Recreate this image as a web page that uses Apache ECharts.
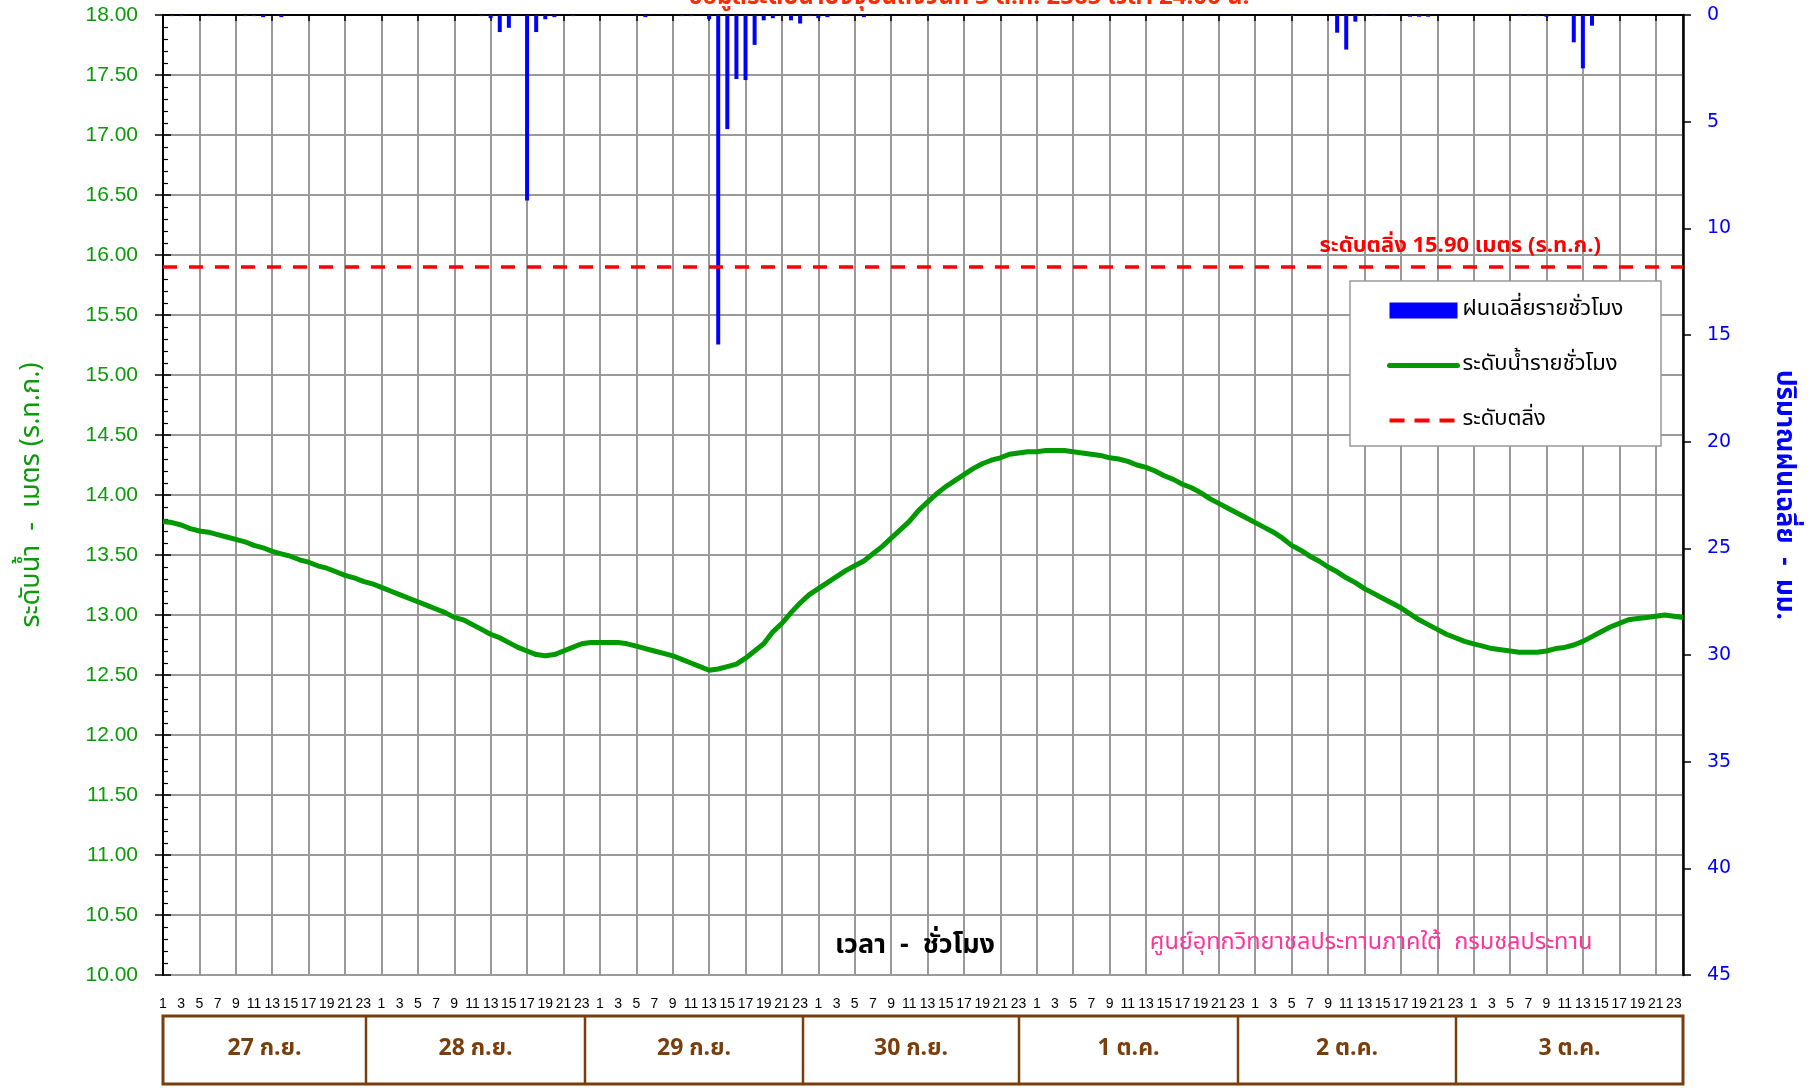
<!DOCTYPE html>
<html><head><meta charset="utf-8">
<script src="https://cdn.jsdelivr.net/npm/echarts@6/dist/echarts.min.js"></script>
<style>html,body{margin:0;padding:0;background:#fff}#c{width:1809px;height:1088px}</style>
</head><body><div id="c"></div>
<script>
// ---------- DATA ----------
const DAYS = ['27 ก.ย.','28 ก.ย.','29 ก.ย.','30 ก.ย.','1 ต.ค.','2 ต.ค.','3 ต.ค.'];
const HOURS = ['1','2','3','4','5','6','7','8','9','10','11','12','13','14','15','16','17','18','19','20','21','22','23','24'];
const WATER_LEVEL = [
  13.78,13.77,13.75,13.72,13.70,13.69,13.67,13.65,13.63,13.61,13.58,13.56,13.53,13.51,13.49,13.46,13.44,13.41,13.39,13.36,13.33,13.31,13.28,13.26,
  13.23,13.20,13.17,13.14,13.11,13.08,13.05,13.02,12.98,12.96,12.92,12.88,12.84,12.81,12.77,12.73,12.70,12.67,12.66,12.67,12.70,12.73,12.76,12.77,
  12.77,12.77,12.77,12.76,12.74,12.72,12.70,12.68,12.66,12.63,12.60,12.57,12.54,12.55,12.57,12.59,12.64,12.70,12.76,12.86,12.93,13.02,13.10,13.17,
  13.22,13.27,13.32,13.37,13.41,13.45,13.51,13.57,13.64,13.71,13.78,13.87,13.94,14.01,14.07,14.12,14.17,14.22,14.26,14.29,14.31,14.34,14.35,14.36,
  14.36,14.37,14.37,14.37,14.36,14.35,14.34,14.33,14.31,14.30,14.28,14.25,14.23,14.20,14.16,14.13,14.09,14.06,14.02,13.97,13.93,13.89,13.85,13.81,
  13.77,13.73,13.69,13.64,13.58,13.54,13.49,13.45,13.40,13.36,13.31,13.27,13.22,13.18,13.14,13.10,13.06,13.01,12.96,12.92,12.88,12.84,12.81,12.78,
  12.76,12.74,12.72,12.71,12.70,12.69,12.69,12.69,12.70,12.72,12.73,12.75,12.78,12.82,12.86,12.90,12.93,12.96,12.97,12.98,12.99,13.00,12.99,12.98
];
const RAIN = [
  0,0.05,0.05,0,0,0.05,0,0,0,0.05,0.05,0.1,0,0.1,0,0,0,0,0,0,0,0,0,0,
  0,0,0,0,0,0,0,0,0,0,0,0.05,0.15,0.8,0.6,0,8.7,0.8,0.2,0.1,0,0.05,0,0,
  0,0,0,0,0.05,0.1,0,0,0,0.05,0.05,0,0.2,15.45,5.35,3.0,3.05,1.4,0.25,0.15,0.05,0.25,0.4,0.05,
  0.15,0.1,0,0.05,0,0.1,0,0.05,0,0,0,0.05,0.05,0,0,0,0,0,0,0,0,0,0,0,
  0,0,0,0,0,0,0,0,0,0,0,0,0,0,0,0,0,0,0,0,0,0,0,0,
  0,0,0,0,0.05,0,0,0,0,0.83,1.62,0.31,0.03,0.05,0.03,0,0,0.08,0.08,0.08,0,0,0,0,
  0,0,0,0,0,0.05,0.05,0.05,0.08,0,0,1.28,2.5,0.5,0,0,0,0,0,0,0,0,0,0
];
const BANK_LEVEL = 15.90;
const LEVEL_MIN = 10, LEVEL_MAX = 18, LEVEL_STEP = 0.5;
const RAIN_MIN = 0, RAIN_MAX = 45, RAIN_STEP = 5;
const SERIES_NAMES = ['ฝนเฉลี่ยรายชั่วโมง','ระดับน้ำรายชั่วโมง','ระดับตลิ่ง'];
const TITLE = 'ข้อมูลระดับน้ำปัจจุบันถึงวันที่ 3 ต.ค. 2565 เวลา 24.00 น.';
const X_NAME = 'เวลา  -  ชั่วโมง';
const CREDIT = 'ศูนย์อุทกวิทยาชลประทานภาคใต้  กรมชลประทาน';
const LEFT_NAME = 'ระดับน้ำ  -  เมตร (ร.ท.ก.)';
const RIGHT_NAME = 'ปริมาณฝนเฉลี่ย  -  มม.';

// ---------- LAYOUT ----------
const THAI = 'Tahoma, "Noto Sans Thai", "Noto Sans Thai UI", Loma, "Noto Sans", sans-serif';
const CATEGORIES = [];
DAYS.forEach((d, di) => HOURS.forEach(h => CATEGORIES.push(di + '|' + h)));
const BOX_EDGES = [163, 366, 585, 803, 1019, 1238, 1456, 1683];
const BROWN = '#7a3d0c';
const NO_SYMBOL = {color:'rgba(0,0,0,0)', borderColor:'rgba(0,0,0,0)', borderWidth:0};

const graphics = [];
graphics.push({type:'rect', z:50, shape:{x:1350,y:281,width:311,height:165}, style:{fill:'#fff', stroke:'#9a9a9a', lineWidth:1.5}});
graphics.push({type:'text', z:50, x:969, y:-13, style:{text:TITLE, fill:'#ff2a00', font:'bold 24px ' + THAI, textAlign:'center', textVerticalAlign:'top'}});
graphics.push({type:'text', z:50, x:915, y:948, style:{text:X_NAME, fill:'#000', font:'bold 27px ' + THAI, textAlign:'center', textVerticalAlign:'middle'}});
graphics.push({type:'text', z:50, x:1371, y:944, style:{text:CREDIT, fill:'#ff3399', font:'23.5px ' + THAI, textAlign:'center', textVerticalAlign:'middle'}});
graphics.push({type:'rect', z:50, shape:{x:BOX_EDGES[0], y:1016, width:BOX_EDGES[7]-BOX_EDGES[0], height:68}, style:{fill:'#fff', stroke:BROWN, lineWidth:3}});
for (let i = 1; i < BOX_EDGES.length - 1; i++) {
  graphics.push({type:'line', z:51, shape:{x1:BOX_EDGES[i], y1:1016, x2:BOX_EDGES[i], y2:1084}, style:{stroke:BROWN, lineWidth:2.5}});
}
DAYS.forEach((d, i) => {
  graphics.push({type:'text', z:52, x:(BOX_EDGES[i]+BOX_EDGES[i+1])/2, y:1050,
    style:{text:d, fill:BROWN, font:'bold 23px "Liberation Sans Narrow", ' + THAI, textAlign:'center', textVerticalAlign:'middle'}});
});

const chart = echarts.init(document.getElementById('c'), null, {renderer:'canvas'});
chart.setOption({
  animation:false,
  backgroundColor:'#fff',
  grid:{left:163, right:126, top:15, bottom:113, containLabel:false, outerBoundsMode:'none',
        show:true, borderColor:'#444', borderWidth:1.5, backgroundColor:'transparent'},
  legend:{
    orient:'vertical', left:1387, top:298, z:60, selectedMode:false, padding:0,
    itemWidth:68, itemHeight:16, itemGap:30,
    textStyle:{fontSize:22, color:'#000', lineHeight:25, fontFamily:THAI},
    data:[
      {name:SERIES_NAMES[0], icon:'rect'},
      {name:SERIES_NAMES[1], itemStyle:NO_SYMBOL, lineStyle:{width:5, cap:'round', color:'#009900'}},
      {name:SERIES_NAMES[2], itemStyle:NO_SYMBOL, lineStyle:{width:4, color:'#ff0000', type:[15,10]}}
    ]
  },
  xAxis:{
    type:'category', data:CATEGORIES, boundaryGap:false,
    axisLine:{show:true, lineStyle:{color:'#000', width:2}},
    axisTick:{show:true, interval:3, length:6, lineStyle:{color:'#000', width:1.5}},
    axisLabel:{interval:1, formatter:v => v.split('|')[1], color:'#000', fontSize:14,
               fontFamily:'"Liberation Sans Narrow", "Liberation Sans", sans-serif', margin:22},
    splitLine:{show:true, interval:3, lineStyle:{color:'#9a9a9a', width:2}}
  },
  yAxis:[
    {type:'value', min:LEVEL_MIN, max:LEVEL_MAX, interval:LEVEL_STEP, position:'left',
     axisLine:{show:true, lineStyle:{color:'#000', width:2}},
     axisTick:{show:true, length:8, lineStyle:{color:'#000', width:1.5}},
     axisLabel:{color:'#0a9a0a', fontSize:21, fontFamily:'"Liberation Sans", sans-serif', formatter:v => v.toFixed(2), margin:25},
     splitLine:{show:true, lineStyle:{color:'#9a9a9a', width:2}},
     name:LEFT_NAME, nameLocation:'middle', nameRotate:90, nameGap:116,
     nameTextStyle:{color:'#0a9a0a', fontSize:27, fontFamily:THAI}},
    {type:'value', min:RAIN_MIN, max:RAIN_MAX, interval:RAIN_STEP, inverse:true, position:'right',
     axisLine:{show:true, lineStyle:{color:'#000', width:2.5}},
     axisTick:{show:true, length:8, lineStyle:{color:'#000', width:1.5}},
     axisLabel:{color:'#0000ff', fontSize:19, fontFamily:'"DejaVu Sans", sans-serif', margin:24},
     splitLine:{show:false},
     name:RIGHT_NAME, nameLocation:'middle', nameRotate:-90, nameGap:86,
     nameTextStyle:{color:'#0000ff', fontSize:26, fontWeight:'bold', fontFamily:THAI}},
    {type:'value', min:LEVEL_MIN, max:LEVEL_MAX, interval:LEVEL_STEP, position:'left',
     axisLine:{show:false}, axisLabel:{show:false}, splitLine:{show:false},
     axisTick:{show:true, inside:true, length:8, lineStyle:{color:'#000', width:1.5}},
     minorTick:{show:true, splitNumber:5, length:5, lineStyle:{color:'#000', width:1.2}}}
  ],
  series:[
    {name:SERIES_NAMES[0], type:'bar', yAxisIndex:1, data:RAIN, barWidth:4,
     itemStyle:{color:'#0000ff'}, z:3},
    {name:SERIES_NAMES[1], type:'line', yAxisIndex:0, data:WATER_LEVEL, symbol:'none', smooth:false,
     lineStyle:{color:'#009900', width:5}, itemStyle:{color:'#009900'}, z:4},
    {name:SERIES_NAMES[2], type:'line', yAxisIndex:0, data:[], symbol:'none',
     lineStyle:{color:'#ff0000', width:3.5, type:[14,12]}, itemStyle:{color:'#ff0000'},
     markLine:{silent:true, symbol:['none','none'], animation:false,
       data:[{yAxis:BANK_LEVEL}],
       lineStyle:{color:'#ff0000', width:3.5, type:[14,12]},
       label:{show:true, position:'insideEndTop', formatter:'ระดับตลิ่ง ' + BANK_LEVEL.toFixed(2) + ' เมตร (ร.ท.ก.)',
              color:'#ff0000', fontSize:22, fontWeight:'bold', fontFamily:THAI, distance:[82, 8]}}}
  ],
  graphic:graphics
});
</script></body></html>
